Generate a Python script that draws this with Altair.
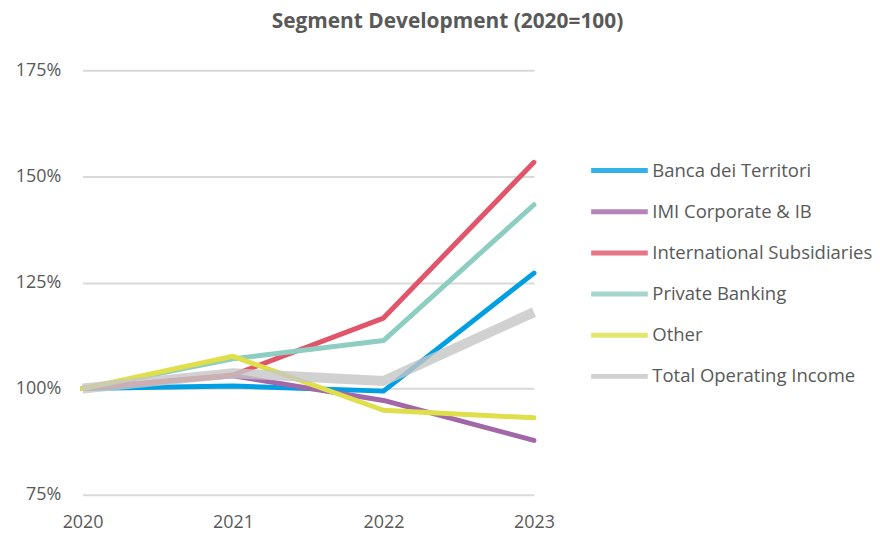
import altair as alt
import pandas as pd

years = [2020, 2021, 2022, 2023]
series = ["Banca dei Territori", "IMI Corporate & IB", "International Subsidiaries",
          "Private Banking", "Other", "Total Operating Income"]
colors = ["#009FE3", "#A267A8", "#E05569", "#8ECDC1", "#DEDF4B", "#C6C6C6"]

banca = [100, 100.6, 99.4, 127.2]
imi = [100, 103.0, 97.2, 87.8]
intl = [100, 103.2, 116.6, 153.3]
private = [100, 107.0, 111.3, 143.3]
other = [100, 107.6, 94.9, 93.1]
total = [100, 103.6, 101.8, 118.0]

values = [banca, imi, intl, private, other, total]
rows = []
for name, vals in zip(series, values):
    for y, v in zip(years, vals):
        rows.append({"Segment": name, "Year": y, "Value": v})
df = pd.DataFrame(rows)

font = "Open Sans"
grey_txt = "#595959"

color = alt.Color(
    "Segment:N",
    scale=alt.Scale(domain=series, range=colors),
    legend=alt.Legend(
        title=None, orient="none", legendX=509, legendY=89,
        symbolType="M-1,0H5", symbolSize=361, symbolStrokeWidth=5,
        labelOffset=40, labelFontSize=18.6, labelFont=font, labelColor=grey_txt,
        rowPadding=19.4, labelLimit=400,
    ),
)

x = alt.X("Year:Q", scale=alt.Scale(domain=[2020, 2023], nice=False),
          axis=alt.Axis(values=years, format="d", title=None, grid=False, domain=False,
                        ticks=False, tickSize=0, labelPadding=19, labelFontSize=18,
                        labelFlush=False, labelFont=font, labelColor=grey_txt))
y = alt.Y("Value:Q", scale=alt.Scale(domain=[75, 175], nice=False, zero=False),
          axis=alt.Axis(values=[75, 100, 125, 150, 175], labelExpr="datum.value + '%'",
                        title=None, domain=False, ticks=False, tickSize=0, labelPadding=22,
                        labelFlush=False, labelFontSize=18, labelFont=font,
                        labelColor=grey_txt, gridColor="#D9D9D9", gridWidth=2))

base = alt.Chart(df)
segs = base.transform_filter(alt.datum.Segment != "Total Operating Income").mark_line(
    strokeWidth=5, strokeCap="round", strokeJoin="round"
).encode(x=x, y=y, color=color, order=alt.Order("Year:Q"))
tot = base.transform_filter(alt.datum.Segment == "Total Operating Income").mark_line(
    strokeWidth=10, strokeCap="butt", strokeJoin="round", opacity=0.8
).encode(x=x, y=y, color=color, order=alt.Order("Year:Q"))

chart = alt.layer(segs, tot).properties(
    width=454, height=427,
    autosize=alt.AutoSizeParams(type="none"),
    padding={"left": 75, "top": 61, "right": 340, "bottom": 36},
    title=alt.Title("Segment Development (2020=100)", font=font, fontSize=21,
                    fontWeight="bold", color=grey_txt, anchor="middle", frame="group",
                    dx=140, offset=29),
).configure_view(stroke=None)

chart.save("out.html", embed_options={"renderer": "svg", "actions": False})
